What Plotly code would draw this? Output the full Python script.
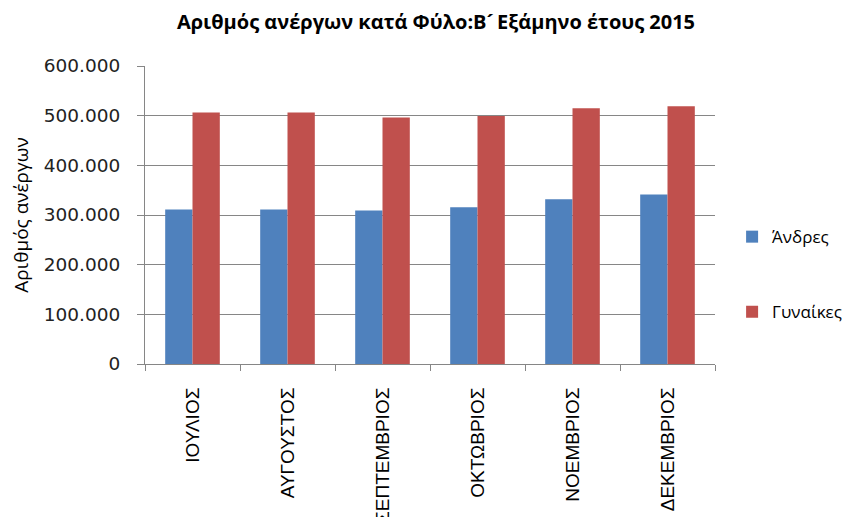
import plotly.graph_objects as go

months = ["ΙΟΥΛΙΟΣ", "ΑΥΓΟΥΣΤΟΣ", "ΣΕΠΤΕΜΒΡΙΟΣ", "ΟΚΤΩΒΡΙΟΣ", "ΝΟΕΜΒΡΙΟΣ", "ΔΕΚΕΜΒΡΙΟΣ"]
men = [311200, 311000, 309200, 315800, 331900, 341300]
women = [506300, 506300, 496200, 499500, 514900, 519000]
yticks = [0, 100000, 200000, 300000, 400000, 500000, 600000]

fig = go.Figure()
fig.add_trace(go.Bar(x=months, y=men, name="Άνδρες", marker=dict(color="#4F81BD", line=dict(width=0)), legendgroup="a"))
fig.add_trace(go.Bar(x=months, y=women, name="Γυναίκες", marker=dict(color="#C0504D", line=dict(width=0)), legendgroup="b"))

fig.update_layout(
    width=856, height=517,
    margin=dict(l=137, r=149, t=58, b=161, autoexpand=False),
    paper_bgcolor="white", plot_bgcolor="white",
    separators=",.",
    barmode="group", bargap=0.425, bargroupgap=0,
    title=dict(text="<b>Αριθμός ανέργων κατά Φύλο:Β\u00b4\u2009Εξάμηνο έτους 2015</b>",
               x=0.5, xanchor="center", y=0.973, yanchor="middle",
               font=dict(family="Open Sans", size=20, color="black")),
    font=dict(family="Liberation Sans", color="black"),
    legend=dict(x=1.03, xanchor="left", y=0.30, yanchor="middle",
                font=dict(family="Open Sans", size=17, color="black"),
                tracegroupgap=50, itemwidth=30),
    showlegend=True,
)
fig.update_xaxes(
    automargin=False,
    showline=True, linecolor="#868686", linewidth=1,
    ticks="outside", tickson="boundaries", ticklen=6, tickcolor="#868686",
    tickangle=-90, tickfont=dict(family="Liberation Sans", size=19, color="black"),
    ticklabelstandoff=15,
    showgrid=False,
)
fig.update_yaxes(
    automargin=False,
    range=[0, 600000], tickvals=yticks, tickformat=",d",
    showline=True, linecolor="#868686", linewidth=1,
    ticks="outside", ticklen=7, tickcolor="#868686",
    ticklabelstandoff=13,
    showgrid=True, gridcolor="#868686", gridwidth=1,
    tickfont=dict(family="DejaVu Sans", size=18.5, color="#222222"),
    title=dict(text="Αριθμός ανέργων", font=dict(family="Open Sans", size=19, color="black"), standoff=12),
    zeroline=False,
)
fig.write_html("out.html")
